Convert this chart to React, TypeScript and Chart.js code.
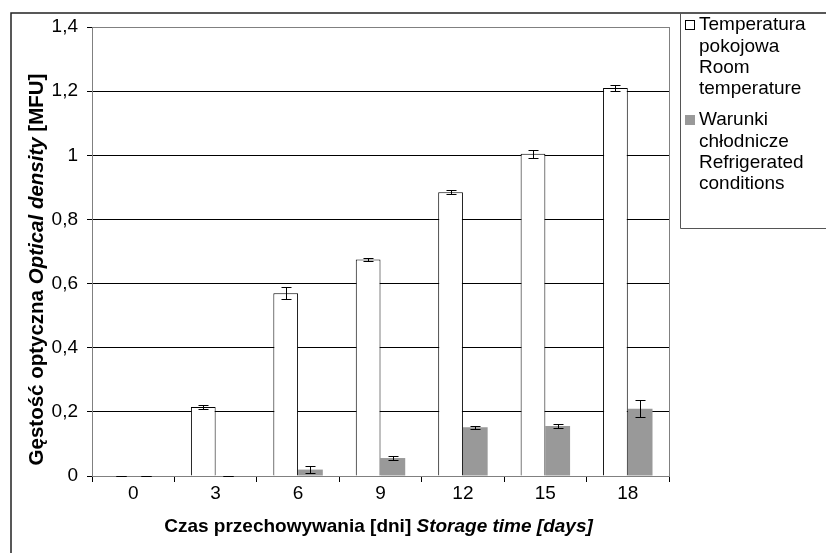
import React, { useEffect, useRef } from "react";
import { Chart, registerables } from "chart.js";
Chart.register(...registerables);

const categories = ["0", "3", "6", "9", "12", "15", "18"];
const roomTemp = [0, 0.215, 0.57, 0.675, 0.885, 1.005, 1.21];
const roomErr = [0, 0.005, 0.018, 0.005, 0.006, 0.012, 0.01];
const refrig = [0, 0, 0.02, 0.056, 0.152, 0.156, 0.21];
const refrigErr = [0, 0, 0.01, 0.005, 0.005, 0.005, 0.027];
const yTicks = [0, 0.2, 0.4, 0.6, 0.8, 1, 1.2, 1.4];
const legendLines = [
  ["Temperatura", "pokojowa", "Room", "temperature"],
  ["Warunki", "chłodnicze", "Refrigerated", "conditions"],
];
const yTitle = [
  { text: "Gęstość optyczna ", italic: false },
  { text: "Optical density", italic: true },
  { text: " [MFU]", italic: false },
];
const xTitle = [
  { text: "Czas przechowywania [dni] ", italic: false },
  { text: "Storage time [days]", italic: true },
];

const FONT = "'Liberation Sans', Arial, sans-serif";
const errors = [roomErr, refrigErr];
const colors = ["#ffffff", "#999999"];

function drawMixed(ctx: CanvasRenderingContext2D, parts: { text: string; italic: boolean }[], cx: number, cy: number, size: number) {
  const fontFor = (it: boolean) => `${it ? "italic " : ""}bold ${size}px ${FONT}`;
  let total = 0;
  const widths = parts.map((p) => {
    ctx.font = fontFor(p.italic);
    const w = ctx.measureText(p.text).width;
    total += w;
    return w;
  });
  let x = cx - total / 2;
  ctx.textBaseline = "middle";
  ctx.textAlign = "left";
  ctx.fillStyle = "#000";
  parts.forEach((p, i) => {
    ctx.font = fontFor(p.italic);
    ctx.fillText(p.text, x, cy);
    x += widths[i];
  });
}

const decorPlugin = {
  id: "decor",
  beforeDatasetsDraw(chart: any) {
    const { ctx, chartArea } = chart;
    ctx.save();
    ctx.strokeStyle = "#808080";
    ctx.lineWidth = 1;
    ctx.strokeRect(chartArea.left + 0.5, chartArea.top + 0.5, chartArea.right - chartArea.left, chartArea.bottom - chartArea.top);
    ctx.restore();
  },
  afterDatasetsDraw(chart: any) {
    const { ctx } = chart;
    const yScale = chart.scales.y;
    ctx.save();
    ctx.strokeStyle = "#000";
    ctx.lineWidth = 1;
    chart.data.datasets.forEach((ds: any, i: number) => {
      const meta = chart.getDatasetMeta(i);
      meta.data.forEach((el: any, j: number) => {
        const v = ds.data[j];
        const e = errors[i][j];
        const x = Math.round(el.x) + 0.5;
        const yt = Math.round(yScale.getPixelForValue(v + e)) + 0.5;
        const yb = Math.round(yScale.getPixelForValue(Math.max(0, v - e))) + 0.5;
        ctx.beginPath();
        ctx.moveTo(x, yt);
        ctx.lineTo(x, yb);
        ctx.moveTo(x - 5, yt);
        ctx.lineTo(x + 5, yt);
        ctx.moveTo(x - 5, yb);
        ctx.lineTo(x + 5, yb);
        ctx.stroke();
      });
    });
    ctx.restore();
  },
  afterDraw(chart: any) {
    const { ctx, chartArea, width, height } = chart;
    ctx.save();
    // outer frame
    ctx.strokeStyle = "#222";
    ctx.lineWidth = 1.5;
    ctx.beginPath();
    ctx.moveTo(11, height);
    ctx.lineTo(11, 13);
    ctx.lineTo(width, 13);
    ctx.stroke();
    // legend box
    const lx = chartArea.right + 11;
    ctx.strokeStyle = "#555";
    ctx.lineWidth = 1;
    ctx.beginPath();
    ctx.moveTo(lx + 0.5, 13);
    ctx.lineTo(lx + 0.5, 228.5);
    ctx.lineTo(width, 228.5);
    ctx.stroke();
    // legend items
    ctx.font = `19px ${FONT}`;
    ctx.textBaseline = "middle";
    ctx.textAlign = "left";
    const starts = [25, 120];
    legendLines.forEach((lines, i) => {
      const y0 = starts[i];
      ctx.fillStyle = colors[i];
      ctx.fillRect(lx + 5, y0 - 5, 10, 10);
      if (i === 0) {
        ctx.strokeStyle = "#000";
        ctx.strokeRect(lx + 5.5, y0 - 4.5, 9, 9);
      }
      ctx.fillStyle = "#000";
      lines.forEach((t, k) => ctx.fillText(t, lx + 19, y0 + k * 21.4));
    });
    // axis titles
    drawMixed(ctx, xTitle, (chartArea.left + chartArea.right) / 2 - 2, chartArea.bottom + 51, 19);
    ctx.save();
    ctx.translate(37, (chartArea.top + chartArea.bottom) / 2 + 18);
    ctx.rotate(-Math.PI / 2);
    drawMixed(ctx, yTitle, 0, 0, 20.5);
    ctx.restore();
    ctx.restore();
  },
};

export default function App() {
  const ref = useRef<HTMLCanvasElement>(null);
  useEffect(() => {
    if (!ref.current) return;
    const chart = new Chart(ref.current, {
      type: "bar",
      data: {
        labels: categories,
        datasets: [
          {
            label: legendLines[0].join(" "),
            data: roomTemp,
            backgroundColor: colors[0],
            borderColor: "#000",
            borderWidth: 1,
            categoryPercentage: 0.6,
            barPercentage: 1,
          },
          {
            label: legendLines[1].join(" "),
            data: refrig,
            backgroundColor: colors[1],
            borderWidth: 0,
            categoryPercentage: 0.6,
            barPercentage: 1,
          },
        ],
      },
      options: {
        animation: false,
        responsive: false,
        maintainAspectRatio: false,
        layout: { padding: { left: 0, top: 27, right: 157, bottom: 0 } },
        plugins: { legend: { display: false }, tooltip: { enabled: false } },
        scales: {
          x: {
            grid: { drawOnChartArea: false, offset: true, tickLength: 6, color: "#000", tickColor: "#000" },
            border: { display: true, color: "#000", width: 1 },
            ticks: { font: { family: FONT, size: 19 }, color: "#000", padding: 0, maxRotation: 0 },
            afterFit: (s: any) => { s.height = 77; },
          },
          y: {
            min: 0,
            max: 1.4,
            afterBuildTicks: (s: any) => { s.ticks = yTicks.map((v) => ({ value: v })); },
            grid: { color: "#000", tickLength: 5, tickColor: "#000", lineWidth: 1 },
            border: { display: true, color: "#000", width: 1 },
            ticks: {
              font: { family: FONT, size: 19 },
              color: "#000",
              padding: 9,
              callback: (v: any) => String(Number(Number(v).toFixed(1))).replace(".", ","),
            },
            afterFit: (s: any) => { s.width = 92; },
          },
        },
      },
      plugins: [decorPlugin],
    });
    return () => chart.destroy();
  }, []);
  return (
    <div style={{ position: "fixed", left: 0, top: 0, width: 826, height: 553, background: "#fff" }}>
      <canvas ref={ref} width={826} height={553} style={{ width: 826, height: 553, display: "block" }} />
    </div>
  );
}
